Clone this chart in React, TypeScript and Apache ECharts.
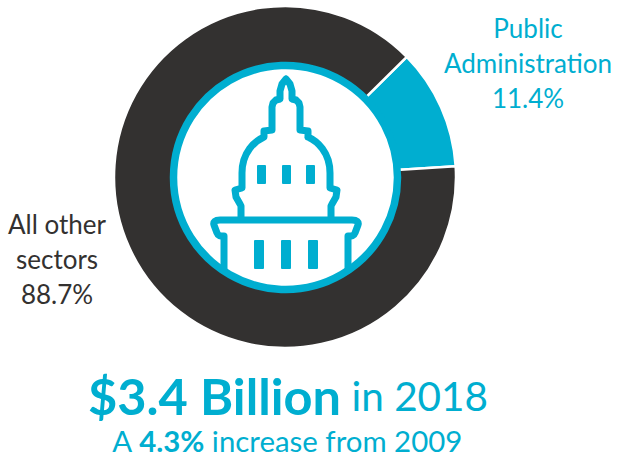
import React, { useEffect, useRef } from "react";
import * as echarts from "echarts";

const sectorNames = ["Public\nAdministration", "All other\nsectors"];
const sectorShares = [11.4, 88.7];
const headlineBold = "$3.4 Billion";
const headlineRest = " in 2018";
const subPrefix = "A ";
const subBold = "4.3%";
const subRest = " increase from 2009";

const TEAL = "#00aed0";
const DARK = "#333130";
const FONT = "Lato, 'Open Sans', sans-serif";

// Capitol outline, traced in the reference's page pixels (one half, mirrored about x = 286)
const half: [number, number][] = [
  [286, 79], [282, 84], [280, 91], [280, 99], [276, 100], [273, 103], [272, 107],
  [272, 130], [264, 131], [264, 137],
];
const X0 = 286;
const toD = () => {
  const L = half.map(([x, y]) => `${x} ${y}`);
  const R = half.slice().reverse().map(([x, y]) => `${2 * X0 - x} ${y}`);
  const left = "M" + L.join(" L");
  const domeL = " C 255 141 242 152 242 173 L 242 188 L 235 190 L 236 197 L 240 204 L 241 206 L 241 220";
  const domeR = " M 331 220 L 331 206 L 332 204 L 336 197 L 337 190 L 330 188 L 330 173 C 330 152 317 141 308 137";
  const right = " M " + R.join(" L ");
  const base =
    " M 222 220 L 352 220 C 357 220 359 222 358 225 L 355 233 C 354 236 352 236 348 236 L 348 270" +
    " M 224 270 L 224 236 C 220 236 218 236 217 233 L 214 225 C 213 222 215 220 220 220 L 222 220";
  return left + domeL + right + domeR + base;
};
echarts.graphic.registerShape("capitol", echarts.graphic.extendPath(toD(), {}) as any);

const windows: [number, number, number, number][] = [
  [257, 165, 9, 19], [282, 165, 9, 19], [306, 165, 9, 19],
  [254, 240, 10, 29], [281, 240, 10, 29], [308, 240, 10, 29],
];

export default function App() {
  const ref = useRef<HTMLDivElement>(null);
  useEffect(() => {
    const chart = echarts.init(ref.current!, null, { renderer: "svg" });
    const labelPos = [
      { x: 528, y: 63 },
      { x: 57, y: 259 },
    ];
    chart.setOption({
      animation: false,
      series: [
        {
          type: "pie",
          center: [285, 177],
          radius: [100, 171],
          startAngle: 44.6,
          clockwise: true,
          silent: true,
          data: sectorNames.map((name, i) => ({
            name,
            value: sectorShares[i],
            itemStyle: { color: i === 0 ? TEAL : DARK, borderColor: "#fff", borderWidth: 2.5 },
            label: { color: i === 0 ? TEAL : DARK },
          })),
          label: {
            show: true,
            formatter: (p: any) => `${p.name}\n${p.value}%`,
            fontFamily: FONT,
            fontSize: 26,
            lineHeight: 35,
            align: "center",
            verticalAlign: "middle",
            overflow: "none",
            width: 220,
          },
          labelLine: { show: false },
          labelLayout: (p: any) => ({
            x: labelPos[p.dataIndex].x,
            y: labelPos[p.dataIndex].y,
            align: "center",
            verticalAlign: "middle",
          }),
        },
      ],
      graphic: [
        {
          type: "circle",
          z: 10,
          shape: { cx: 285.5, cy: 177.5, r: 112 },
          style: { fill: "#fff", stroke: TEAL, lineWidth: 7.5 },
          silent: true,
        },
        {
          type: "capitol",
          z: 11,
          style: { fill: "none", stroke: TEAL, lineWidth: 7, lineJoin: "round", lineCap: "round" },
          silent: true,
        },
        ...windows.map(([x, y, width, height]) => ({
          type: "rect",
          z: 11,
          shape: { x, y, width, height, r: 1 },
          style: { fill: TEAL },
          silent: true,
        })),
        {
          type: "text",
          z: 11,
          x: 288,
          y: 395,
          style: {
            text: `{b|${headlineBold}}{r|${headlineRest}}`,
            align: "center",
            verticalAlign: "middle",
            rich: {
              b: { fontFamily: FONT, fontWeight: 700, fontSize: 50.5, fill: TEAL },
              r: { fontFamily: FONT, fontSize: 40.5, fill: TEAL },
            },
          },
        },
        {
          type: "text",
          z: 11,
          x: 287,
          y: 440,
          style: {
            text: `{r|${subPrefix}}{b|${subBold}}{r|${subRest}}`,
            align: "center",
            verticalAlign: "middle",
            rich: {
              b: { fontFamily: FONT, fontWeight: 700, fontSize: 29.4, lineHeight: 24, fill: TEAL },
              r: { fontFamily: FONT, fontSize: 29.4, lineHeight: 24, fill: TEAL },
            },
          },
        },
      ],
    });
    return () => chart.dispose();
  }, []);
  return (
    <div
      ref={ref}
      style={{ position: "fixed", left: 0, top: 0, width: 617, height: 456, background: "#fff" }}
    />
  );
}
